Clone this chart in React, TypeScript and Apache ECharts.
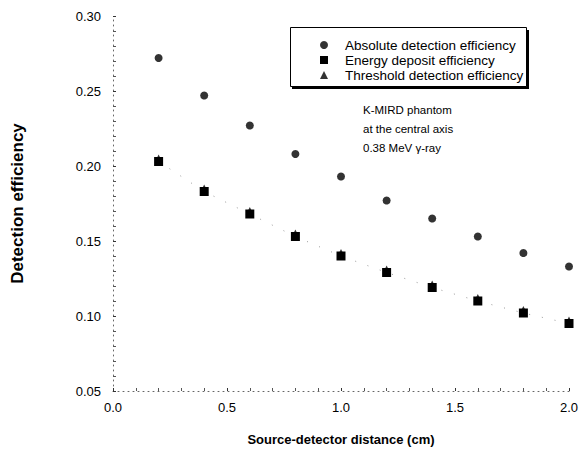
import React, { useEffect, useRef } from "react";
import * as echarts from "echarts";

const distances = [0.2, 0.4, 0.6, 0.8, 1.0, 1.2, 1.4, 1.6, 1.8, 2.0];
const absoluteEff = [0.272, 0.247, 0.227, 0.208, 0.193, 0.177, 0.165, 0.153, 0.142, 0.133];
const energyEff = [0.203, 0.183, 0.168, 0.153, 0.140, 0.129, 0.119, 0.110, 0.102, 0.095];
const thresholdEff = [0.205, 0.185, 0.170, 0.155, 0.142, 0.131, 0.121, 0.112, 0.104, 0.097];
const seriesNames = ["Absolute detection efficiency", "Energy deposit efficiency", "Threshold detection efficiency"];
const noteLines = ["K-MIRD phantom", "at the central axis", "0.38 MeV γ-ray"];

const FONT = "'Liberation Sans', Arial, sans-serif";

export default function App() {
  const ref = useRef<HTMLDivElement>(null);
  useEffect(() => {
    if (!ref.current) return;
    const chart = echarts.init(ref.current, undefined, { renderer: "svg" });
    const pair = (ys: number[]) => distances.map((x, i) => [x, ys[i]]);
    chart.setOption({
      animation: false,
      backgroundColor: "#fff",
      textStyle: { fontFamily: FONT },
      grid: { left: 113, right: 13, top: 16, bottom: 66 },
      xAxis: {
        type: "value",
        min: 0,
        max: 2,
        interval: 0.5,
        name: "Source-detector distance (cm)",
        nameLocation: "middle",
        nameGap: 42,
        nameTextStyle: { fontFamily: FONT, fontWeight: "bold", fontSize: 13, color: "#000" },
        axisLine: { show: true, lineStyle: { color: "#666", type: [1, 4], width: 1 } },
        axisTick: { show: true, inside: true, length: 3, lineStyle: { color: "#333" } },
        minorTick: { show: true, splitNumber: 5, length: 3, lineStyle: { color: "#555" } },
        axisLabel: { color: "#000", fontSize: 13, margin: 10, formatter: (v: number) => v.toFixed(1) },
        splitLine: { show: false },
      },
      yAxis: {
        type: "value",
        min: 0.05,
        max: 0.3,
        interval: 0.05,
        name: "Detection efficiency",
        nameLocation: "middle",
        nameGap: 87,
        nameTextStyle: { fontFamily: FONT, fontWeight: "bold", fontSize: 17, color: "#000" },
        axisLine: { show: true, lineStyle: { color: "#666", type: [1, 4], width: 1 } },
        axisTick: { show: true, inside: true, length: 3, lineStyle: { color: "#333" } },
        minorTick: { show: true, splitNumber: 5, length: 3, lineStyle: { color: "#555" } },
        axisLabel: { color: "#000", fontSize: 13, margin: 12, formatter: (v: number) => v.toFixed(2) },
        splitLine: { show: false },
      },
      legend: {
        orient: "vertical",
        left: 315,
        top: 33,
        itemWidth: 8,
        itemHeight: 8,
        itemGap: 1,
        textStyle: { fontFamily: FONT, fontSize: 13.5, color: "#000", padding: [0, 0, 0, 12] },
        data: [
          { name: seriesNames[0], icon: "circle" },
          { name: seriesNames[1], icon: "rect" },
          { name: seriesNames[2], icon: "triangle" },
        ],
        selectedMode: false,
      },
      graphic: [
        { type: "rect", left: 292, top: 30, shape: { width: 237, height: 59 }, style: { fill: "#000" }, z: 1 },
        { type: "rect", left: 290, top: 27, shape: { width: 236, height: 59 }, style: { fill: "#fff", stroke: "#000", lineWidth: 1 }, z: 2 },
        {
          type: "text",
          left: 363,
          top: 100,
          z: 3,
          style: { text: noteLines.join("\n"), font: `11.5px ${FONT}`, fill: "#000", lineHeight: 19 },
        },
      ],
      series: [
        {
          name: seriesNames[0],
          type: "scatter",
          symbol: "circle",
          symbolSize: 8,
          itemStyle: { color: "#000" },
          data: pair(absoluteEff),
          z: 5,
        },
        {
          name: seriesNames[1],
          type: "line",
          symbol: "rect",
          symbolSize: 9,
          showSymbol: true,
          itemStyle: { color: "#000" },
          lineStyle: { color: "#999", width: 1, type: [1, 12] },
          data: pair(energyEff),
          z: 5,
        },
        {
          name: seriesNames[2],
          type: "scatter",
          symbol: "triangle",
          symbolSize: 8,
          itemStyle: { color: "#000" },
          data: pair(thresholdEff),
          z: 6,
        },
      ],
    });
    return () => chart.dispose();
  }, []);
  return <div ref={ref} style={{ position: "fixed", left: 0, top: 0, width: 582, height: 457 }} />;
}
